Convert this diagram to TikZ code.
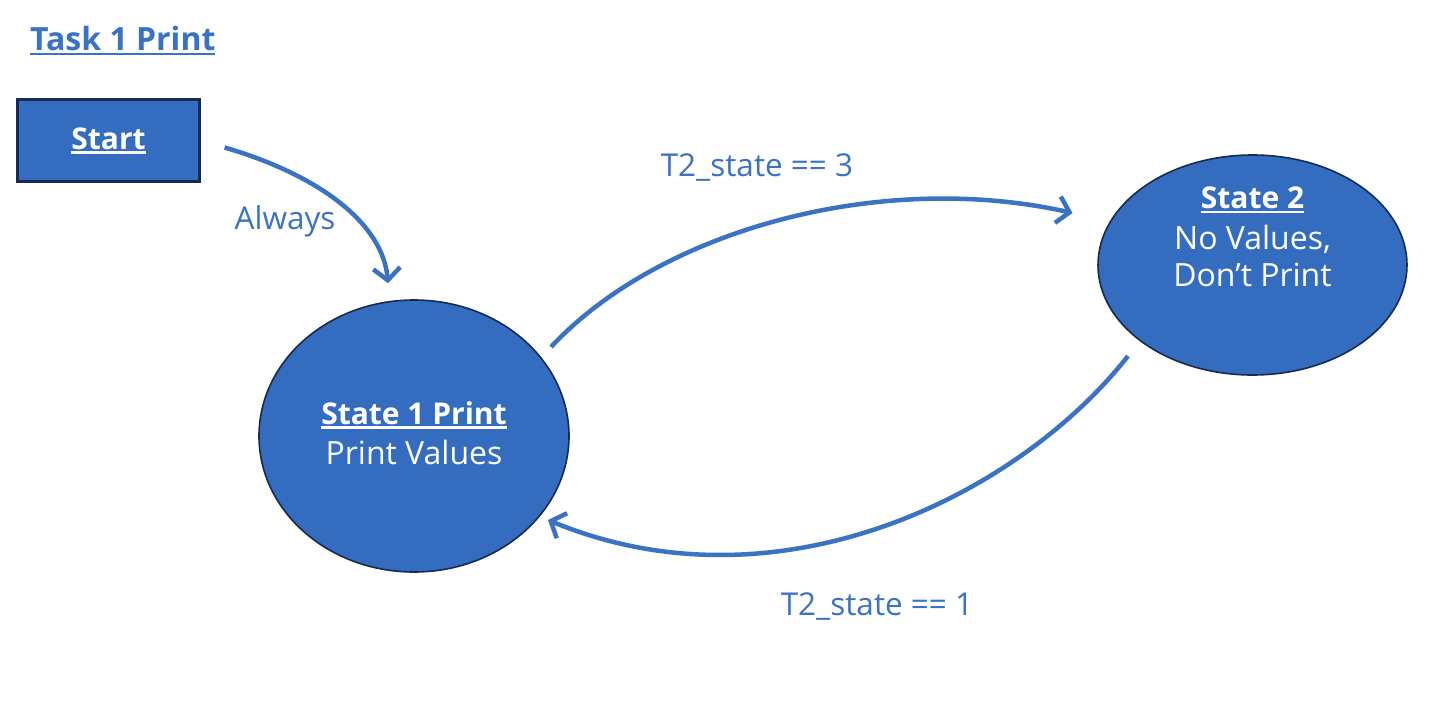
\documentclass[tikz,border=0pt]{standalone}
\usepackage{fontspec}
\setmainfont{Open Sans}
\usetikzlibrary{shapes.geometric,arrows.meta}
\definecolor{fillblue}{HTML}{346CC0}
\definecolor{edgenavy}{HTML}{152B50}
\definecolor{txtblue}{HTML}{3A72C4}
\newcommand\myul[2][2.5pt]{\leavevmode\setbox0\hbox{#2}\rlap{\rule[-4.5pt]{\wd0}{#1}}\box0}
\newcommand\hd[1]{{\fontsize{30}{41}\selectfont\bfseries\myul{#1}}}
\tikzset{
  statebox/.style={ellipse, fill=fillblue, draw=edgenavy, line width=1.6pt, inner sep=0pt},
  statetext/.style={text=white, align=center, inner sep=0pt, font=\fontsize{32}{41}\selectfont},
  startbox/.style={rectangle, fill=fillblue, draw=edgenavy, line width=2.2pt, inner sep=0pt,
    minimum width=182pt, minimum height=82pt, text=white, font=\fontsize{30}{34}\selectfont\bfseries},
  conn/.style={draw=txtblue, line width=4.5pt, -{Straight Barb[length=12pt,width=27pt,line width=4.5pt]}},
  lbl/.style={text=txtblue, font=\fontsize{31.5}{34}\selectfont, inner sep=0pt},
}
\begin{document}
\begin{tikzpicture}[x=1pt,y=-1pt]
\useasboundingbox (0,0) rectangle (1452,710);
\node[lbl, font=\fontsize{32}{34}\selectfont\bfseries, anchor=west] (title) at (30,41) {\myul[2.8pt]{Task 1 Print}};
\node[startbox] (start) at (108.5,140.5) {\myul{Start}};
\node[statebox, minimum width=310pt, minimum height=272pt] (s1) at (414,436) {};
\node[statetext] (s1t) at ([yshift=3]s1.center) {\hd{State 1 Print}\\[-1pt]Print Values};
\node[statebox, minimum width=309pt, minimum height=220pt] (s2) at (1252.5,265) {};
\node[statetext] (s2t) at ([yshift=28]s2.center) {\hd{State 2}\\[0pt]No Values,\\[-4pt]Don’t Print};
\draw[conn] ([shift={(24,7)}]start.east) .. controls ([shift={(120,35)}]start.east) and ([shift={(-31,-75)}]s1.north) .. ([shift={(-26,-16)}]s1.north);
\draw[conn] ([shift={(137,-89)}]s1.center) .. controls ([shift={(246,-206)}]s1.center) and ([shift={(-372,-95)}]s2.center) .. ([shift={(-180,-52)}]s2.center);
\draw[conn] ([shift={(-124.5,91)}]s2.center) .. controls ([shift={(-234.5,231)}]s2.center) and ([shift={(364,179)}]s1.center) .. ([shift={(134,84)}]s1.center);
\node[lbl] (la) at (285,221) {Always};
\node[lbl] (l3) at (757,168) {T2\_state == 3};
\node[lbl] (l1) at (877,607) {T2\_state == 1};
\end{tikzpicture}
\end{document}
